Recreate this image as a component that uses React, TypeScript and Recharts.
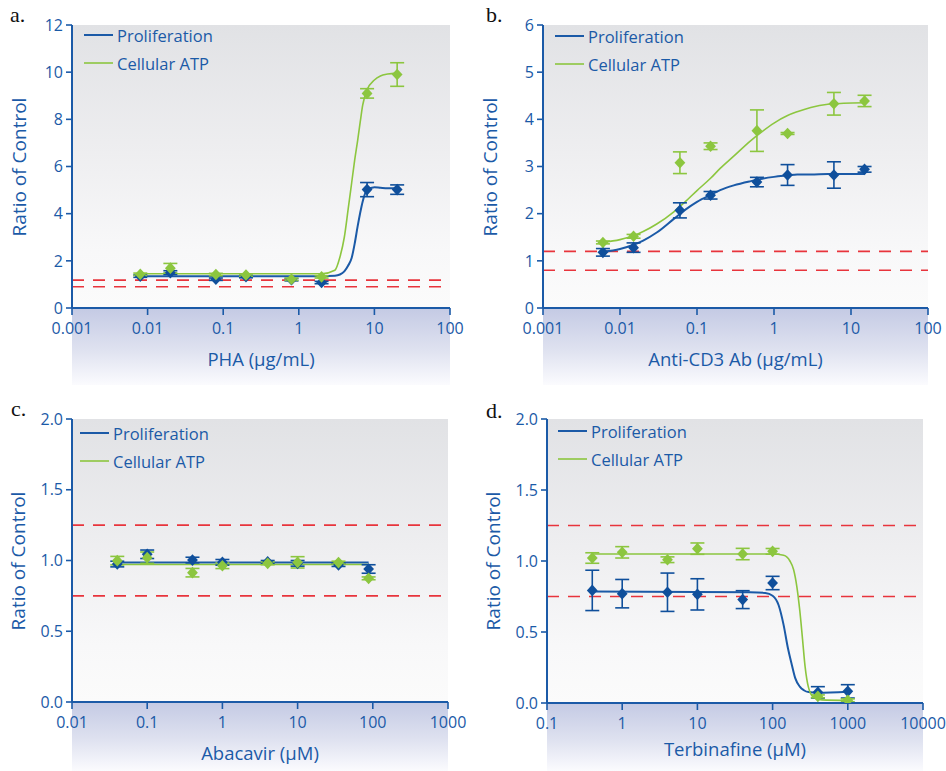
import React from "react";
import {
  ComposedChart,
  Line,
  Scatter,
  ErrorBar,
  XAxis,
  YAxis,
  ReferenceLine,
  Legend
} from "recharts";

const BLUE = "#1b5aa7";
const BLUE_DOT = "#0f4f9b";
const GREEN = "#8cc63f";
const RED = "#e8343c";
const FONT = "'Open Sans', 'Noto Sans', sans-serif";
const SERIES_ORDER = ["Proliferation", "Cellular ATP"];

// a. PHA
const phaDose = [0.008, 0.02, 0.08, 0.2, 0.8, 2, 8, 20];
const phaProlif = [1.35, 1.5, 1.22, 1.33, 1.2, 1.08, 5.02, 5.02];
const phaProlifSd = [0.05, 0.08, 0.05, 0.05, 0.05, 0.05, 0.3, 0.2];
const phaAtp = [1.43, 1.69, 1.42, 1.4, 1.22, 1.32, 9.1, 9.9];
const phaAtpSd = [0.05, 0.2, 0.05, 0.05, 0.05, 0.05, 0.2, 0.5];
const phaFitDose = [0.008, 2, 3, 3.5, 4, 4.5, 5, 5.5, 6, 6.5, 7, 8, 10, 12, 15, 20];
const phaFitProlif = [1.35, 1.35, 1.37, 1.42, 1.55, 1.8, 2.12, 2.75, 3.46, 4.05, 4.52, 5.0, 5.12, 5.1, 5.08, 5.08];
const phaFitAtp = [1.45, 1.45, 1.6, 2.16, 3.0, 4.2, 5.3, 6.3, 7.1, 7.9, 8.6, 9.25, 9.67, 9.84, 9.92, 9.96];
const phaLimits = [1.18, 0.9];

// b. Anti-CD3
const cd3Dose = [0.006, 0.015, 0.06, 0.15, 0.6, 1.5, 6, 15];
const cd3Prolif = [1.18, 1.28, 2.07, 2.39, 2.67, 2.82, 2.82, 2.94];
const cd3ProlifSd = [0.08, 0.1, 0.16, 0.08, 0.1, 0.22, 0.28, 0.06];
const cd3Atp = [1.39, 1.52, 3.08, 3.43, 3.76, 3.7, 4.33, 4.39];
const cd3AtpSd = [0.03, 0.04, 0.23, 0.07, 0.44, 0.02, 0.24, 0.12];
const cd3FitDose = [0.006, 0.01, 0.015, 0.02, 0.03, 0.05, 0.07, 0.1, 0.15, 0.2, 0.3, 0.5, 0.7, 1, 1.5, 2, 3, 5, 8, 15];
const cd3FitProlif = [1.19, 1.25, 1.34, 1.43, 1.6, 1.89, 2.08, 2.25, 2.4, 2.5, 2.6, 2.69, 2.74, 2.78, 2.81, 2.83, 2.83, 2.84, 2.84, 2.84];
const cd3FitAtp = [1.39, 1.45, 1.53, 1.62, 1.78, 2.04, 2.25, 2.49, 2.75, 2.96, 3.22, 3.55, 3.74, 3.92, 4.08, 4.16, 4.25, 4.32, 4.34, 4.35];
const cd3Limits = [1.2, 0.8];

// c. Abacavir
const abcDose = [0.04, 0.1, 0.4, 1, 4, 10, 35, 88];
const abcProlif = [0.975, 1.044, 1.003, 0.987, 0.99, 0.98, 0.968, 0.94];
const abcProlifSd = [0.02, 0.03, 0.02, 0.02, 0.01, 0.02, 0.01, 0.03];
const abcAtp = [0.999, 1.02, 0.914, 0.963, 0.98, 0.987, 0.985, 0.874];
const abcAtpSd = [0.03, 0.04, 0.03, 0.02, 0.01, 0.04, 0.01, 0.01];
const abcFitDose = [0.04, 88];
const abcFitProlif = [0.985, 0.985];
const abcFitAtp = [0.972, 0.972];
const abcLimits = [1.25, 0.75];

// d. Terbinafine
const terDose = [0.4, 1, 4, 10, 40, 100, 400, 1000];
const terProlif = [0.793, 0.77, 0.78, 0.765, 0.728, 0.845, 0.075, 0.082];
const terProlifSd = [0.142, 0.1, 0.135, 0.11, 0.063, 0.047, 0.04, 0.047];
const terAtp = [1.021, 1.061, 1.009, 1.087, 1.049, 1.068, 0.047, 0.019];
const terAtpSd = [0.037, 0.04, 0.02, 0.04, 0.04, 0.02, 0.01, 0.01];
const terFitProlifDose = [0.4, 50, 80, 100, 120, 140, 160, 180, 200, 230, 260, 300, 400, 1000];
const terFitProlif = [0.785, 0.78, 0.775, 0.755, 0.69, 0.55, 0.385, 0.27, 0.175, 0.115, 0.09, 0.077, 0.073, 0.08];
const terFitAtpDose = [0.4, 100, 140, 170, 190, 210, 230, 250, 270, 300, 350, 450, 1000];
const terFitAtp = [1.049, 1.049, 1.04, 1.0, 0.94, 0.82, 0.65, 0.45, 0.26, 0.11, 0.04, 0.022, 0.018];
const terLimits = [1.25, 0.75];

const zip = (xs: number[], ys: number[], es?: number[]) =>
  xs.map((x, i) => ({ x, y: ys[i], err: es ? es[i] : 0 }));

const panels = [
  {
    tag: "a.", left: 0, top: 0, width: 470, height: 385,
    plot: { l: 72, t: 25, r: 450, b: 308 },
    tagPos: { x: 10, y: 2 },
    xDomain: [0.001, 100], xTicks: [0.001, 0.01, 0.1, 1, 10, 100],
    yDomain: [0, 12], yTicks: [0, 2, 4, 6, 8, 10, 12], yFixed: 0,
    xTitle: "PHA (µg/mL)", xTitleY: 358, yTitleX: 19,
    legend: { x: 84, y: 21 },
    limits: phaLimits,
    prolif: zip(phaDose, phaProlif, phaProlifSd), atp: zip(phaDose, phaAtp, phaAtpSd),
    fitProlif: zip(phaFitDose, phaFitProlif), fitAtp: zip(phaFitDose, phaFitAtp)
  },
  {
    tag: "b.", left: 470, top: 0, width: 476, height: 385,
    plot: { l: 73, t: 25, r: 458, b: 308 },
    tagPos: { x: 16, y: 2 },
    xDomain: [0.001, 100], xTicks: [0.001, 0.01, 0.1, 1, 10, 100],
    yDomain: [0, 6], yTicks: [0, 1, 2, 3, 4, 5, 6], yFixed: 0,
    xTitle: "Anti-CD3 Ab (µg/mL)", xTitleY: 358, yTitleX: 20,
    legend: { x: 85, y: 22 },
    limits: cd3Limits,
    prolif: zip(cd3Dose, cd3Prolif, cd3ProlifSd), atp: zip(cd3Dose, cd3Atp, cd3AtpSd),
    fitProlif: zip(cd3FitDose, cd3FitProlif), fitAtp: zip(cd3FitDose, cd3FitAtp)
  },
  {
    tag: "c.", left: 0, top: 390, width: 470, height: 381,
    plot: { l: 72, t: 29, r: 448, b: 312 },
    tagPos: { x: 11, y: 6 },
    xDomain: [0.01, 1000], xTicks: [0.01, 0.1, 1, 10, 100, 1000],
    yDomain: [0, 2], yTicks: [0, 0.5, 1, 1.5, 2], yFixed: 1,
    xTitle: "Abacavir (µM)", xTitleY: 362, yTitleX: 18,
    legend: { x: 80, y: 29 },
    limits: abcLimits,
    prolif: zip(abcDose, abcProlif, abcProlifSd), atp: zip(abcDose, abcAtp, abcAtpSd),
    fitProlif: zip(abcFitDose, abcFitProlif), fitAtp: zip(abcFitDose, abcFitAtp)
  },
  {
    tag: "d.", left: 470, top: 390, width: 476, height: 381,
    plot: { l: 77, t: 29, r: 453, b: 313 },
    tagPos: { x: 16, y: 8 },
    xDomain: [0.1, 10000], xTicks: [0.1, 1, 10, 100, 1000, 10000],
    yDomain: [0, 2], yTicks: [0, 0.5, 1, 1.5, 2], yFixed: 1,
    xTitle: "Terbinafine (µM)", xTitleY: 358, yTitleX: 23,
    legend: { x: 88, y: 27 },
    limits: terLimits,
    prolif: zip(terDose, terProlif, terProlifSd), atp: zip(terDose, terAtp, terAtpSd),
    fitProlif: zip(terFitProlifDose, terFitProlif), fitAtp: zip(terFitAtpDose, terFitAtp)
  }
];

function Diamond(props: any) {
  const { cx, cy, fill } = props;
  if (cx == null || cy == null) return null;
  const w = 5.4, h = 5.8;
  return <path d={`M${cx},${cy - h}L${cx + w},${cy}L${cx},${cy + h}L${cx - w},${cy}Z`} fill={fill} />;
}

function LegendBox({ payload }: any) {
  const items = (payload || [])
    .filter((p: any) => p.type !== "none" && SERIES_ORDER.includes(p.value))
    .sort((a: any, b: any) => SERIES_ORDER.indexOf(a.value) - SERIES_ORDER.indexOf(b.value));
  return (
    <div style={{ display: "flex", flexDirection: "column" }}>
      {items.map((e: any) => (
        <div key={e.value} style={{ display: "flex", alignItems: "center", height: 28 }}>
          <svg width={29} height={4}>
            <line x1={0} y1={2} x2={29} y2={2} stroke={e.color} strokeWidth={e.color === GREEN ? 1.6 : 2} />
          </svg>
          <span style={{ marginLeft: 4, color: BLUE, fontFamily: FONT, fontSize: 16.5, whiteSpace: "nowrap" }}>
            {e.value}
          </span>
        </div>
      ))}
    </div>
  );
}

function Panel({ cfg }: any) {
  const { plot, width, height } = cfg;
  const yAxisW = 50;
  const xAxisH = 30;
  const margin = {
    top: plot.t,
    right: width - plot.r,
    left: plot.l - yAxisW,
    bottom: height - plot.b - xAxisH
  };
  const tickStyle = { fill: BLUE, fontSize: 16, fontFamily: FONT };
  return (
    <div style={{ position: "absolute", left: cfg.left, top: cfg.top, width, height }}>
      <div
        style={{
          position: "absolute", left: plot.l, top: plot.t, width: plot.r - plot.l, height: plot.b - plot.t,
          background: "linear-gradient(180deg, #e1e2e5 0%, #eeeef0 45%, #f8f8f9 80%, #fbfbfb 100%)"
        }}
      />
      <div
        style={{
          position: "absolute", left: plot.l, top: plot.b, width: plot.r - plot.l, height: height - plot.b,
          background: "linear-gradient(180deg, #c4cae4 0%, #dfe2f0 55%, #fbfbfe 100%)"
        }}
      />
      <div style={{ position: "absolute", left: 0, top: 0 }}>
        <ComposedChart width={width} height={height} margin={margin}>
          <XAxis
            type="number" dataKey="x" scale="log" domain={cfg.xDomain} allowDataOverflow
            ticks={cfg.xTicks} interval={0} height={xAxisH}
            tickFormatter={(v: number) => String(v)}
            axisLine={{ stroke: BLUE, strokeWidth: 2 }} tickLine={{ stroke: BLUE, strokeWidth: 1.6 }}
            tickSize={7} tickMargin={8} tick={tickStyle}
          />
          <YAxis
            type="number" dataKey="y" domain={cfg.yDomain} ticks={cfg.yTicks} interval={0}
            allowDataOverflow width={yAxisW}
            tickFormatter={(v: number) => v.toFixed(cfg.yFixed)}
            axisLine={{ stroke: BLUE, strokeWidth: 2 }} tickLine={{ stroke: BLUE, strokeWidth: 1.6 }}
            tickSize={6} tickMargin={3} tick={tickStyle}
          />
          {cfg.limits.map((v: number) => (
            <ReferenceLine key={v} y={v} stroke={RED} strokeWidth={1.6} strokeDasharray="12 9" />
          ))}
          <Line
            data={cfg.fitProlif} dataKey="y" name="Proliferation" type="monotone"
            stroke={BLUE} strokeWidth={2} dot={false} activeDot={false} isAnimationActive={false}
          />
          <Line
            data={cfg.fitAtp} dataKey="y" name="Cellular ATP" type="monotone"
            stroke={GREEN} strokeWidth={1.6} dot={false} activeDot={false} isAnimationActive={false}
          />
          <Scatter
            data={cfg.prolif} dataKey="y" fill={BLUE_DOT} legendType="none"
            shape={(p: any) => <Diamond {...p} fill={BLUE_DOT} />} isAnimationActive={false}
          >
            <ErrorBar dataKey="err" direction="y" width={7} stroke={BLUE_DOT} strokeWidth={1.6} />
          </Scatter>
          <Scatter
            data={cfg.atp} dataKey="y" fill={GREEN} legendType="none"
            shape={(p: any) => <Diamond {...p} fill={GREEN} />} isAnimationActive={false}
          >
            <ErrorBar dataKey="err" direction="y" width={7} stroke={GREEN} strokeWidth={1.6} />
          </Scatter>
          <Legend
            layout="vertical" align="center" verticalAlign="middle"
            wrapperStyle={{ left: cfg.legend.x, top: cfg.legend.y, width: "auto", height: "auto" }}
            content={(p: any) => <LegendBox payload={p.payload} />}
          />
        </ComposedChart>
      </div>
      <div
        style={{
          position: "absolute", left: cfg.tagPos.x, top: cfg.tagPos.y,
          fontFamily: "'Liberation Serif', serif", fontSize: 22, color: "#111"
        }}
      >
        {cfg.tag}
      </div>
      <div
        style={{
          position: "absolute", left: (plot.l + plot.r) / 2, top: cfg.xTitleY,
          transform: "translate(-50%, -50%)", whiteSpace: "nowrap",
          fontFamily: FONT, fontSize: 18.5, color: BLUE
        }}
      >
        {cfg.xTitle}
      </div>
      <div
        style={{
          position: "absolute", left: cfg.yTitleX, top: (plot.t + plot.b) / 2,
          transform: "translate(-50%, -50%) rotate(-90deg)", whiteSpace: "nowrap",
          fontFamily: FONT, fontSize: 19, color: BLUE
        }}
      >
        Ratio of Control
      </div>
    </div>
  );
}

export default function App() {
  return (
    <div style={{ position: "absolute", left: 0, top: 0, width: 946, height: 771, background: "#fff", overflow: "hidden" }}>
      {panels.map((cfg) => (
        <Panel key={cfg.tag} cfg={cfg} />
      ))}
    </div>
  );
}
